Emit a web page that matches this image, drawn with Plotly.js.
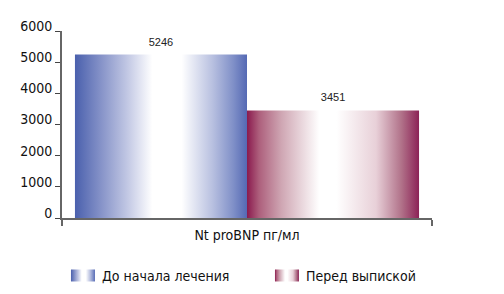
<!DOCTYPE html>
<html>
<head>
<meta charset="utf-8">
<script src="https://cdn.plot.ly/plotly-3.0.1.min.js"></script>
<style>
html,body{margin:0;padding:0;background:#fff;}
#chart{width:504px;height:294px;}
</style>
</head>
<body>
<div id="chart"></div>
<script>
const categories = ["Nt proBNP пг/мл"];
const seriesNames = ["До начала лечения", "Перед выпиской"];
const beforeValues = [5246];
const dischargeValues = [3451];
const yTickValues = [0, 1000, 2000, 3000, 4000, 5000, 6000];

const FONT = '"DejaVu Sans Condensed", "Liberation Sans", Arial, sans-serif';

const traces = [
  {
    type: 'bar', name: seriesNames[0], x: categories, y: beforeValues,
    text: beforeValues.map(String), textposition: 'outside', cliponaxis: false,
    textfont: {family: '"Liberation Sans", Arial, sans-serif', size: 11, color: '#222'},
    marker: {color: '#8a98cf', line: {width: 0}}
  },
  {
    type: 'bar', name: seriesNames[1], x: categories, y: dischargeValues,
    text: dischargeValues.map(String), textposition: 'outside', cliponaxis: false,
    textfont: {family: '"Liberation Sans", Arial, sans-serif', size: 11, color: '#222'},
    marker: {color: '#c48aa0', line: {width: 0}}
  }
];

const layout = {
  width: 504, height: 294,
  margin: {l: 62, r: 72, t: 31, b: 76, autoexpand: false},
  paper_bgcolor: '#fff', plot_bgcolor: '#fff',
  barmode: 'group', bargap: 0.07, bargroupgap: 0,
  showlegend: true,
  font: {family: FONT, size: 14, color: '#111'},
  xaxis: {
    type: 'category', showgrid: false, zeroline: false,
    showline: true, linecolor: '#666', linewidth: 2,
    ticks: 'outside', tickson: 'boundaries', ticklen: 6, tickcolor: '#666', tickwidth: 1.5,
    ticklabelstandoff: 3,
    tickfont: {family: FONT, size: 14, color: '#111'}
  },
  yaxis: {
    range: [0, 6000], tickvals: yTickValues, ticktext: yTickValues.map(String),
    showgrid: false, zeroline: false,
    showline: true, linecolor: '#666', linewidth: 2,
    ticks: 'outside', ticklen: 5, tickcolor: '#444', tickwidth: 1,
    ticklabelshift: -5,
    tickfont: {family: FONT, size: 14, color: '#111'}
  },
  legend: {
    orientation: 'h', xref: 'paper', yref: 'paper',
    x: -0.0001, xanchor: 'left', y: -0.224, yanchor: 'top',
    font: {family: FONT, size: 14, color: '#111'},
    entrywidth: 159, entrywidthmode: 'pixels',
    bgcolor: 'rgba(0,0,0,0)'
  }
};

const gradients = [
  {id: 'gradBlue', stops: [[0,'#4a60ad'],[0.15,'#8592c8'],[0.3,'#c0c6e3'],[0.45,'#ffffff'],[0.62,'#ffffff'],[0.8,'#b8c0e0'],[0.92,'#8090c8'],[1,'#5569b4']]},
  {id: 'gradRed', stops: [[0,'#8a1a4e'],[0.07,'#ad5f7c'],[0.2,'#cfa6b3'],[0.42,'#ffffff'],[0.52,'#ffffff'],[0.75,'#e8d0d8'],[0.9,'#b07088'],[1,'#8c2256']]}
];

function applyGradients(gd) {
  const svg = gd.querySelector('svg.main-svg');
  const NS = 'http://www.w3.org/2000/svg';
  let defs = svg.querySelector('defs');
  if (!defs) { defs = document.createElementNS(NS, 'defs'); svg.insertBefore(defs, svg.firstChild); }
  gradients.forEach(g => {
    if (document.getElementById(g.id)) return;
    const lg = document.createElementNS(NS, 'linearGradient');
    lg.setAttribute('id', g.id);
    lg.setAttribute('x1', '0'); lg.setAttribute('x2', '1');
    lg.setAttribute('y1', '0'); lg.setAttribute('y2', '0');
    g.stops.forEach(s => {
      const st = document.createElementNS(NS, 'stop');
      st.setAttribute('offset', s[0]);
      st.setAttribute('stop-color', s[1]);
      lg.appendChild(st);
    });
    defs.appendChild(lg);
  });
  const barTraces = gd.querySelectorAll('.barlayer .trace');
  barTraces.forEach((t, i) => {
    t.querySelectorAll('.point path').forEach(p => { p.style.fill = 'url(#' + gradients[i].id + ')'; });
    t.querySelectorAll('.point text.bartext').forEach(tx => {
      const tr = tx.getAttribute('transform') || '';
      tx.setAttribute('transform', 'translate(0,-4) ' + tr);
    });
  });
  const legendTraces = gd.querySelectorAll('.legend .traces');
  legendTraces.forEach((t, i) => {
    t.querySelectorAll('.legendpoints path').forEach(p => {
      p.setAttribute('d', 'M13,6H-11V-6H13Z');
      p.style.fill = 'url(#' + gradients[i].id + ')';
      p.style.stroke = 'none';
    });
  });
}

const gd = document.getElementById('chart');
Plotly.newPlot(gd, traces, layout, {staticPlot: true, displayModeBar: false}).then(() => applyGradients(gd));
</script>
</body>
</html>
